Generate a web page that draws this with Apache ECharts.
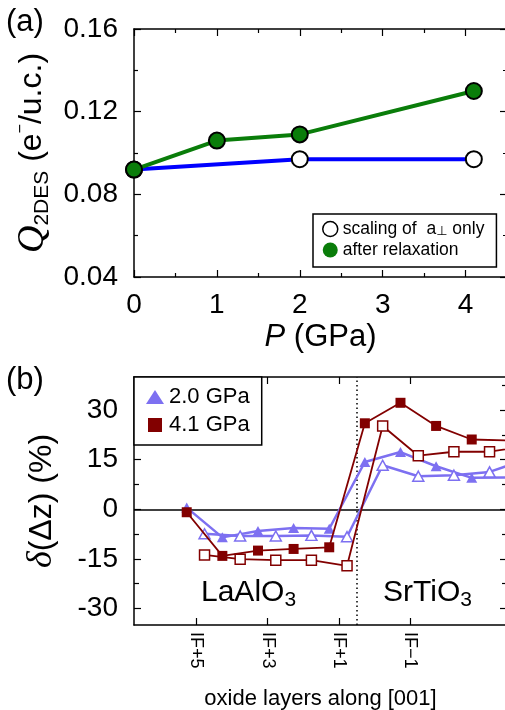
<!DOCTYPE html>
<html><head><meta charset="utf-8">
<script src="https://cdn.jsdelivr.net/npm/echarts@6/dist/echarts.min.js"></script>
<style>html,body{margin:0;padding:0;background:#fff}#c{width:505px;height:710px}</style>
</head><body><div id="c"></div>
<script>
// ---- Panel (a) data ----
const pressureRelaxed = [0, 1, 2, 4.1];
const qRelaxed = [0.092, 0.106, 0.109, 0.130];
const pressureScaled = [0, 2, 4.1];
const qScaled = [0.092, 0.097, 0.097];
const pressureTicks = [0, 1, 2, 3, 4];
const pressureMinorTicks = [0.5, 1.5, 2.5, 3.5];

// ---- Panel (b) data ----
const layerFilled = [5.27, 4.27, 3.27, 2.27, 1.27, 0.27, -0.73, -1.73, -2.73, -3.73];
const layerOpen = [4.77, 3.77, 2.77, 1.77, 0.77, -0.23, -1.23, -2.23, -3.23, -4.23];
const dz20Filled = [0.5, -8.5, -6.6, -5.7, -5.9, 14.3, 17.3, 13.0, 9.5, 9.6];
const dz20Open = [-7.4, -8.1, -8.1, -7.9, -8.3, 13.3, 10.0, 10.3, 11.3, 15.0];
const dz41Filled = [-0.9, -14.1, -12.5, -12.0, -11.5, 26.0, 32.2, 25.2, 21.1, 20.8];
const dz41Open = [-13.8, -15.1, -15.4, -15.4, -17.1, 25.2, 16.2, 17.4, 17.4, 19.0];
const layerTickValues = [5, 3, 1, -1];
const layerTickLabels = ['IF+5', 'IF+3', 'IF+1', 'IF\u22121'];
const dzTickValues = [-30, -15, 0, 15, 30];
const dzMinorTickValues = [-22.5, -7.5, 7.5, 22.5, 37.5];
const interfacePosition = 0.5;

const FF = "'Liberation Sans', Arial, sans-serif";
const SERIF = "'Liberation Serif', 'DejaVu Serif', serif";
const BLACK = '#000';
const PURPLE = '#7d70f1';
const RED = '#820000';
const GREEN = '#0a7d0a';
const BLUE = '#0000ff';

function zip(xs, ys) { return xs.map((x, i) => [x, ys[i]]); }

function axisBase(extra) {
  return Object.assign({
    type: 'value',
    splitLine: { show: false },
    axisLine: { show: true, onZero: false, lineStyle: { color: BLACK, width: 1.5 } },
    axisTick: { show: true, inside: true, length: 7, lineStyle: { color: BLACK, width: 1.2 } },
    axisLabel: { show: false },
    minorTick: { show: false },
    minorSplitLine: { show: false }
  }, extra);
}
function minorAxis(extra, values, len) {
  return axisBase(Object.assign({
    axisLine: { show: false, onZero: false },
    axisTick: { show: true, inside: true, length: len || 4, customValues: values, lineStyle: { color: BLACK, width: 1.2 } }
  }, extra));
}

const chart = echarts.init(document.getElementById('c'), null, { renderer: 'canvas' });

const option = {
  animation: false,
  backgroundColor: '#fff',
  textStyle: { fontFamily: FF, color: BLACK },
  grid: [
    { left: 134, top: 29, width: 373, height: 248, outerBoundsMode: 'none', containLabel: false },
    { left: 134, top: 377, width: 373, height: 248, outerBoundsMode: 'none', containLabel: false }
  ],
  xAxis: [
    axisBase({
      gridIndex: 0, position: 'bottom', min: 0, max: 4.5,
      axisTick: { show: true, inside: true, length: 7, customValues: pressureTicks, lineStyle: { color: BLACK, width: 1.2 } },
      axisLabel: { show: true, customValues: pressureTicks, fontSize: 28, color: BLACK, margin: 14, fontFamily: FF },
      name: '{p|P} (GPa)', nameLocation: 'middle', nameGap: 45,
      nameTextStyle: { fontSize: 31, color: BLACK, fontFamily: FF, rich: { p: { fontSize: 31, fontStyle: 'italic', fontFamily: FF } } }
    }),
    minorAxis({ gridIndex: 0, position: 'bottom', min: 0, max: 4.5 }, pressureMinorTicks),
    axisBase({
      gridIndex: 0, position: 'top', min: 0, max: 4.5,
      axisTick: { show: true, inside: true, length: 7, customValues: pressureTicks, lineStyle: { color: BLACK, width: 1.2 } }
    }),
    minorAxis({ gridIndex: 0, position: 'top', min: 0, max: 4.5 }, pressureMinorTicks),
    axisBase({
      gridIndex: 1, position: 'bottom', min: -3.72, max: 6.75, inverse: true,
      axisTick: { show: true, inside: true, length: 7, customValues: layerTickValues, lineStyle: { color: BLACK, width: 1.2 } },
      axisLabel: {
        show: true, customValues: layerTickValues, rotate: -90, fontSize: 18, color: BLACK, margin: 7, fontFamily: FF,
        formatter: v => layerTickLabels[layerTickValues.indexOf(v)] || ''
      },
      name: 'oxide layers along [001]', nameLocation: 'middle', nameGap: 63,
      nameTextStyle: { fontSize: 22, color: BLACK, fontFamily: FF }
    }),
    axisBase({
      gridIndex: 1, position: 'top', min: -3.72, max: 6.75, inverse: true,
      axisTick: { show: true, inside: true, length: 7, customValues: layerTickValues, lineStyle: { color: BLACK, width: 1.2 } }
    })
  ],
  yAxis: [
    axisBase({
      gridIndex: 0, position: 'left', min: 0.04, max: 0.16, interval: 0.04,
      minorTick: { show: true, splitNumber: 2, length: 4, lineStyle: { color: BLACK, width: 1.2 } },
      axisLabel: { show: true, fontSize: 28, color: BLACK, margin: 16, fontFamily: FF, formatter: v => v.toFixed(2) },
      name: '{q|Q}{sub|2DES} (e{sup|\u2212}/u.c.)', nameLocation: 'middle', nameRotate: 90, nameGap: 79,
      nameTextStyle: {
        fontSize: 32, lineHeight: 40, color: BLACK, fontFamily: FF,
        rich: {
          q: { fontSize: 38, lineHeight: 40, fontStyle: 'italic', fontFamily: SERIF, verticalAlign: 'middle' },
          sub: { fontSize: 21, lineHeight: 14, fontFamily: FF, verticalAlign: 'bottom' },
          sup: { fontSize: 16, lineHeight: 16, verticalAlign: 'top', fontFamily: FF }
        }
      }
    }),
    axisBase({
      gridIndex: 0, position: 'right', min: 0.04, max: 0.16, interval: 0.04,
      minorTick: { show: true, splitNumber: 2, length: 4, lineStyle: { color: BLACK, width: 1.2 } }
    }),
    axisBase({
      gridIndex: 1, position: 'left', min: -35, max: 40,
      axisTick: { show: true, inside: true, length: 7, customValues: dzTickValues, lineStyle: { color: BLACK, width: 1.2 } },
      axisLabel: { show: true, customValues: dzTickValues, fontSize: 28, color: BLACK, margin: 16, fontFamily: FF },
      name: '{d|\u03b4}(\u0394z) (%)', nameLocation: 'middle', nameRotate: 90, nameGap: 72,
      nameTextStyle: {
        fontSize: 32, lineHeight: 40, color: BLACK, fontFamily: FF,
        rich: { d: { fontSize: 36, lineHeight: 40, fontStyle: 'italic', fontFamily: SERIF, verticalAlign: 'middle' } }
      }
    }),
    minorAxis({ gridIndex: 1, position: 'left', min: -35, max: 40 }, dzMinorTickValues, 5),
    axisBase({
      gridIndex: 1, position: 'right', min: -35, max: 40,
      axisTick: { show: true, inside: true, length: 7, customValues: dzTickValues, lineStyle: { color: BLACK, width: 1.2 } }
    }),
    minorAxis({ gridIndex: 1, position: 'right', min: -35, max: 40 }, dzMinorTickValues, 5)
  ],
  legend: [
    {
      orient: 'vertical', left: 313, top: 214, padding: [6, 12, 8, 9],
      itemWidth: 15, itemHeight: 15, itemGap: 3, selectedMode: false,
      borderColor: BLACK, borderWidth: 1.5, backgroundColor: '#fff', z: 10,
      textStyle: { fontSize: 17.5, lineHeight: 18, color: BLACK, fontFamily: FF,
        rich: { s: { fontSize: 13, lineHeight: 8, verticalAlign: 'bottom', fontFamily: "'DejaVu Sans', sans-serif" } } },
      formatter: n => n === 'scaling of a\u22a5 only' ? 'scaling of  a{s|\u22a5} only' : n,
      data: [
        { name: 'scaling of a\u22a5 only', icon: 'circle', itemStyle: { color: '#fff', borderColor: BLACK, borderWidth: 1.5 } },
        { name: 'after relaxation', icon: 'circle', itemStyle: { color: GREEN, borderWidth: 0 } }
      ]
    },
    {
      orient: 'vertical', left: 134, top: 377, padding: [8, 12, 8, 12],
      itemWidth: 18, itemHeight: 14, itemGap: 4, selectedMode: false,
      borderColor: BLACK, borderWidth: 1.5, backgroundColor: '#fff', z: 10,
      textStyle: { fontSize: 22, lineHeight: 24, color: BLACK, fontFamily: FF },
      data: [
        { name: '2.0 GPa', icon: 'triangle', itemStyle: { color: PURPLE, borderWidth: 0 } },
        { name: '4.1 GPa', icon: 'path://M0,0H10V10H0Z', itemStyle: { color: RED, borderWidth: 0 } }
      ]
    }
  ],
  series: [
    {
      type: 'line', name: 'scaling of a\u22a5 only', xAxisIndex: 0, yAxisIndex: 0,
      data: zip(pressureScaled, qScaled), z: 2,
      lineStyle: { color: BLUE, width: 4 },
      symbol: 'circle', symbolSize: 16,
      itemStyle: { color: '#fff', borderColor: BLACK, borderWidth: 2 }
    },
    {
      type: 'line', name: 'after relaxation', xAxisIndex: 0, yAxisIndex: 0,
      data: zip(pressureRelaxed, qRelaxed), z: 3,
      lineStyle: { color: GREEN, width: 4 },
      symbol: 'circle', symbolSize: 16,
      itemStyle: { color: GREEN, borderColor: BLACK, borderWidth: 2 }
    },
    {
      type: 'line', name: '2.0 GPa', xAxisIndex: 4, yAxisIndex: 2,
      data: zip(layerFilled, dz20Filled), z: 3,
      lineStyle: { color: PURPLE, width: 2.5 },
      symbol: 'triangle', symbolSize: [11, 10],
      itemStyle: { color: PURPLE, borderWidth: 0 }
    },
    {
      type: 'line', name: '2.0 GPa', xAxisIndex: 4, yAxisIndex: 2,
      data: zip(layerOpen, dz20Open), z: 3,
      lineStyle: { color: PURPLE, width: 2.5 },
      symbol: 'triangle', symbolSize: [11, 10],
      itemStyle: { color: '#fff', borderColor: PURPLE, borderWidth: 1.5 },
      markLine: {
        silent: true, symbol: ['none', 'none'], label: { show: false }, z: 1, animation: false,
        data: [
          { yAxis: 0, lineStyle: { color: BLACK, width: 1.5, type: 'solid' } },
          { xAxis: interfacePosition, lineStyle: { color: BLACK, width: 1.5, type: [1.5, 3] } }
        ]
      }
    },
    {
      type: 'line', name: '4.1 GPa', xAxisIndex: 4, yAxisIndex: 2,
      data: zip(layerOpen, dz41Open), z: 4,
      lineStyle: { color: RED, width: 1.8 },
      symbol: 'rect', symbolSize: 10,
      itemStyle: { color: '#fff', borderColor: RED, borderWidth: 1.5 }
    },
    {
      type: 'line', name: '4.1 GPa', xAxisIndex: 4, yAxisIndex: 2,
      data: zip(layerFilled, dz41Filled), z: 4,
      lineStyle: { color: RED, width: 1.8 },
      symbol: 'rect', symbolSize: 10,
      itemStyle: { color: RED, borderWidth: 0 }
    }
  ],
  graphic: [
    { type: 'text', x: 6, y: 22, style: { text: '(a)', fontSize: 31, fontFamily: FF, fill: BLACK, verticalAlign: 'middle', align: 'left' } },
    { type: 'text', x: 6, y: 380, style: { text: '(b)', fontSize: 31, fontFamily: FF, fill: BLACK, verticalAlign: 'middle', align: 'left' } },
    { type: 'text', x: 201, y: 593, z: 20, style: { text: '{m|LaAlO}{s|3}', fontFamily: FF, fill: BLACK, verticalAlign: 'middle', align: 'left',
        rich: { m: { fontSize: 30, lineHeight: 36, verticalAlign: 'middle' }, s: { fontSize: 21, lineHeight: 15, verticalAlign: 'bottom' } } } },
    { type: 'text', x: 383, y: 593, z: 20, style: { text: '{m|SrTiO}{s|3}', fontFamily: FF, fill: BLACK, verticalAlign: 'middle', align: 'left',
        rich: { m: { fontSize: 30, lineHeight: 36, verticalAlign: 'middle' }, s: { fontSize: 21, lineHeight: 15, verticalAlign: 'bottom' } } } }
  ]
};
chart.setOption(option);
</script>
</body></html>
